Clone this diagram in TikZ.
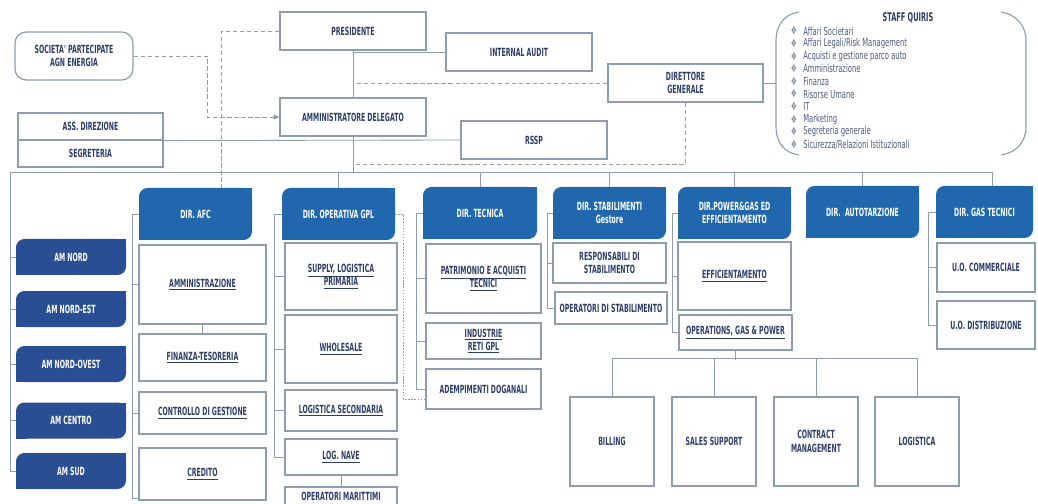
\documentclass[tikz,border=0pt]{standalone}
\usepackage{fontspec}
\newfontfamily\boxfont{DejaVu Sans}[FakeStretch=0.55]
\newfontfamily\stafffont{DejaVu Sans}[FakeStretch=0.62]
\usepackage{xcolor}
\definecolor{dirblue}{HTML}{2167AE}
\definecolor{amblue}{HTML}{2A4E93}
\definecolor{border}{HTML}{8C9DB2}
\definecolor{navy}{HTML}{2C3D68}
\usepackage{tikz}
\usetikzlibrary{arrows.meta}

\begin{document}
\begin{tikzpicture}[%
    x=0.025cm, y=-0.025cm,
    every node/.style={
        font=\boxfont\fontsize{8}{9.5}\selectfont\bfseries,
        text=navy,
        align=center,
        inner sep=0
    },
    wh/.style 2 args={minimum width=#1*0.025cm, minimum height=#2*0.025cm},
    unit/.style={draw=border, line width=0.9pt, fill=white},
    leaf/.style={
        text=white,
        path picture={
            \fill[#1, rounded corners=6pt] (path picture bounding box.south west) rectangle (path picture bounding box.north east);
            \fill[#1] (path picture bounding box.north east) rectangle ++(-8pt,-8pt);
            \fill[#1] (path picture bounding box.south west) rectangle ++(8pt,8pt);
        }
    },
    dir/.style={leaf=dirblue},
    am/.style={leaf=amblue},
    staff/.style={font=\stafffont\fontsize{7.8}{9}\selectfont, text=navy!85},
    link/.style={draw=border, line width=0.6pt},
    dashlink/.style={link, dash pattern=on 3pt off 2pt},
    dotlink/.style={link, dash pattern=on 1pt off 1.2pt}
]

\useasboundingbox (0,0) rectangle (1038,504);
\clip (0,0) rectangle (1038,504);

% vertice
\node[unit, wh={146}{38}] (pres) at (353,31) {PRESIDENTE};
\node[unit, wh={146}{38}] (audit) at (519,52) {INTERNAL AUDIT};
\node[unit, wh={146}{38}] (ad) at (353,117) {AMMINISTRATORE DELEGATO};
\node[unit, wh={146}{38}] (rssp) at (534,140) {RSSP};
\node[unit, wh={155}{38}] (dg) at (685.5,83) {DIRETTORE\\GENERALE};
\node[unit, rounded corners=8pt, wh={118}{48}] (soc) at (74,56) {SOCIETA' PARTECIPATE\\AGN ENERGIA};
\node[unit, wh={145}{27}] (ass) at (90.5,126.5) {ASS. DIREZIONE};
\node[unit, wh={145}{27}] (seg) at (90.5,153.5) {SEGRETERIA};

\node[font=\boxfont\fontsize{8.5}{10}\selectfont\bfseries] (stafftitle) at (908,18) {STAFF QUIRIS};
\foreach \txt [count=\i from 0] in {Affari Societari, Affari Legali/Risk Management,
    Acquisti e gestione parco auto, Amministrazione, Finanza, Risorse Umane, IT,
    Marketing, Segreteria generale, Sicurezza/Relazioni Istituzionali} {
    \node[staff, text=border!80!navy] (b\i) at (794,{31+12.6*\i}) {❖};
    \node[staff, anchor=west] (s\i) at (803,{31+12.6*\i}) {\txt};
}
\coordinate (staffin) at (776,83);

% aree
\node[am, wh={110}{36}] (amnord) at (71,257) {AM NORD};
\node[am, wh={110}{36}] (amnordest) at (71,309) {AM NORD-EST};
\node[am, wh={110}{36}] (amnordovest) at (71,364) {AM NORD-OVEST};
\node[am, wh={110}{36}] (amcentro) at (71,420.5) {AM CENTRO};
\node[am, wh={110}{36}] (amsud) at (71,471) {AM SUD};

% direzioni
\node[dir, wh={113}{52}] (afc) at (195.5,214) {DIR. AFC};
\node[dir, wh={113}{52}] (op) at (338.5,214) {DIR. OPERATIVA GPL};
\node[dir, wh={114}{52}] (tec) at (480,213) {DIR. TECNICA};
\node[dir, wh={113}{52}] (stab) at (609.5,213) {DIR. STABILIMENTI\\Gestore};
\node[dir, wh={113}{52}] (pow) at (734.5,213) {DIR.POWER\&GAS ED\\EFFICIENTAMENTO};
\node[dir, wh={113}{52}] (auto) at (862.5,212) {DIR.~~AUTOTARZIONE};
\node[dir, wh={97}{52}] (gas) at (984.5,212) {DIR. GAS TECNICI};

\node[unit, wh={127}{79}] (amm) at (202.5,284.5) {\underline{AMMINISTRAZIONE}};
\node[unit, wh={127}{47}] (fin) at (202.5,357.5) {\underline{FINANZA-TESORERIA}};
\node[unit, wh={127}{42}] (ctl) at (202.5,413) {\underline{CONTROLLO DI GESTIONE}};
\node[unit, wh={127}{52}] (cred) at (202.5,474) {\underline{CREDITO}};

\node[unit, wh={112}{67}] (sup) at (341,276.5) {\underline{SUPPLY, LOGISTICA}\\\underline{PRIMARIA}};
\node[unit, wh={112}{68}] (who) at (341,349) {\underline{WHOLESALE}};
\node[unit, wh={112}{41}] (lsec) at (341,410.5) {\underline{LOGISTICA SECONDARIA}};
\node[unit, wh={112}{36}] (nave) at (341,457) {\underline{LOG. NAVE}};
\node[unit, wh={112}{19}] (mar) at (341,496.5) {OPERATORI MARITTIMI};

\node[unit, wh={115}{69}] (pat) at (483.5,278.5) {\underline{PATRIMONIO E ACQUISTI}\\\underline{TECNICI}};
\node[unit, wh={115}{36}] (ind) at (483.5,341) {\underline{INDUSTRIE}\\\underline{RETI GPL}};
\node[unit, wh={115}{40}] (adem) at (483.5,389) {ADEMPIMENTI DOGANALI};

\node[unit, wh={113}{40}] (resp) at (609.5,263) {RESPONSABILI DI\\STABILIMENTO};
\node[unit, wh={112}{32}] (opst) at (611,308) {OPERATORI DI STABILIMENTO};

\node[unit, wh={113}{68}] (eff) at (734.5,276) {\underline{EFFICIENTAMENTO}};
\node[unit, wh={113}{35}] (opgp) at (735.5,332.5) {\underline{OPERATIONS, GAS \& POWER}};

\node[unit, wh={84}{89}] (bill) at (612,441.5) {BILLING};
\node[unit, wh={84}{89}] (sales) at (714,441.5) {SALES SUPPORT};
\node[unit, wh={84}{89}] (cm) at (816,441.5) {CONTRACT\\MANAGEMENT};
\node[unit, wh={84}{89}] (logi) at (917,441.5) {LOGISTICA};

\node[unit, wh={98}{49}] (uoc) at (986,267.5) {U.O. COMMERCIALE};
\node[unit, wh={98}{48}] (uod) at (986,325) {U.O. DISTRIBUZIONE};

% collegamenti
\coordinate (bus) at (10,172);
\coordinate (dgturn) at (353,164);

\draw[link] (pres) -- (ad);
\draw[link] (audit.west) -- (audit.west -| pres.south);
\draw[link] (ass.south east) -- (rssp.west);
\draw[link] (ad.south) -- (ad.south |- bus);
\draw[link] (dg.east) -- (staffin);
\draw[dashlink] (dg.west) -- (dg.west -| pres.south);
\draw[dashlink] (dg.south) |- (dgturn);
\draw[dashlink] (pres.west) -| ([xshift=0.66cm]afc.north);
\draw[dashlink, -{Triangle[length=4pt,width=3.5pt]}] (soc.east) -- ++(74,0) |- (ad.west);

\draw[link] ([xshift=0.2cm]gas.north) |- (bus) |- (amsud.west);
\foreach \n in {amnord, amnordest, amnordovest, amcentro}
    \draw[link] (\n.west) -- (\n.west -| bus);
\foreach \n in {op, tec, stab, pow, auto}
    \draw[link] (\n.north) -- (\n.north |- bus);

\draw[link] (afc.west) -- ++(-6,0) |- ([yshift=0.05cm]cred.south west);
\foreach \n in {amm, ctl}
    \draw[link] (\n.west) -- ++(-6,0);
\draw[link] (amm) -- (fin);

\draw[link] (op.west) -- ++(-7,0) |- (nave.west);
\foreach \n in {sup, who, lsec}
    \draw[link] (\n.west) -- ++(-10,0);
\draw[link] (nave) -- (mar);
\draw[dotlink] (op.east) -- ++(8,0) |- ([yshift=-0.25cm]adem.west);

\draw[link] (tec.west) -- ++(-6,0) |- (adem.west);
\foreach \n in {pat, ind}
    \draw[link] (\n.west) -- ++(-9,0);

\draw[link] (stab.west) -- ++(-5,0) |- (opst.west);
\draw[link] (resp.west) -- ++(-5,0);

\draw[link] (pow.west) -- ++(-5,0) |- (opgp.west);
\draw[link] (eff.west) -- ++(-5,0);
\draw[link] (opgp.south) -- ++(0,9);
\draw[link] (bill.north) -- ++(0,-38) -| (logi.north);
\foreach \n in {sales, cm}
    \draw[link] (\n.north) -- ++(0,-38);

\draw[link] (gas.west) -- ++(-7,0) |- (uod.west);
\draw[link] (uoc.west) -- ++(-8,0);

% parentesi staff
\draw[link, line width=0.8pt] (799,12) .. controls (784,14) and (776,26) .. (776,40)
    -- (776,127) .. controls (776,142) and (784,153) .. (799,155);
\draw[link, line width=0.8pt] (1001,12) .. controls (1016,14) and (1026,26) .. (1026,40)
    -- (1026,127) .. controls (1026,142) and (1016,153) .. (1001,155);

\end{tikzpicture}
\end{document}
